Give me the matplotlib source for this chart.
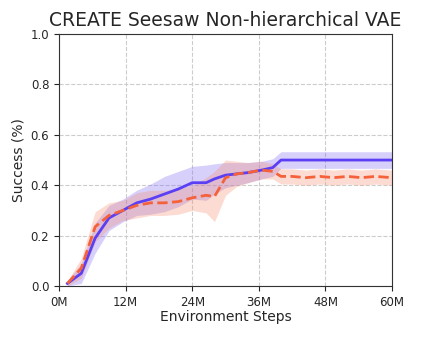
import numpy as np
import matplotlib
matplotlib.use("Agg")
import matplotlib.pyplot as plt

# environment steps (millions)
steps = [1.5, 4, 6.5, 9, 11.5, 14, 16.5, 19, 21.5, 24, 26.5, 28, 30, 32, 34,
         36.5, 38.5, 40, 42, 44.5, 47, 49.5, 52, 54.5, 57, 60]

blue_mean = [0.01, 0.05, 0.19, 0.27, 0.30, 0.33, 0.345, 0.365, 0.385, 0.41, 0.41, 0.425,
             0.44, 0.445, 0.45, 0.46, 0.47, 0.50, 0.50, 0.50, 0.50, 0.50, 0.50, 0.50, 0.50, 0.50]
blue_std = [0.01, 0.04, 0.06, 0.05, 0.045, 0.05, 0.06, 0.07, 0.07, 0.065, 0.07, 0.06,
            0.05, 0.045, 0.04, 0.035, 0.035, 0.033, 0.033, 0.033, 0.033, 0.033, 0.033, 0.033, 0.033, 0.033]

orange_mean = [0.01, 0.07, 0.235, 0.28, 0.30, 0.32, 0.33, 0.33, 0.335, 0.35, 0.36, 0.355,
               0.43, 0.445, 0.45, 0.46, 0.455, 0.435, 0.435, 0.43, 0.435, 0.43, 0.435, 0.43, 0.435, 0.43]
orange_std = [0.01, 0.04, 0.06, 0.05, 0.04, 0.05, 0.05, 0.05, 0.05, 0.05, 0.07, 0.1,
              0.07, 0.05, 0.04, 0.035, 0.03, 0.03, 0.03, 0.03, 0.03, 0.03, 0.03, 0.03, 0.03, 0.03]

xticks = [0, 12, 24, 36, 48, 60]
xticklabels = ['0M', '12M', '24M', '36M', '48M', '60M']

x = np.array(steps)
bm, bs = np.array(blue_mean), np.array(blue_std)
om, os_ = np.array(orange_mean), np.array(orange_std)

txt = '#262626'
fig = plt.figure(figsize=(4.22, 3.38), dpi=100)
ax = fig.add_axes([0.14, 0.154, 0.789, 0.745])

ax.fill_between(x, bm - bs, bm + bs, color='#7b66f5', alpha=0.3, linewidth=0)
ax.fill_between(x, om - os_, om + os_, color='#f88a6a', alpha=0.3, linewidth=0)
ax.plot(x, bm, color='#5a3ff5', linewidth=2)
ax.plot(x, om, color='#f4613a', linewidth=2, linestyle='--')

ax.set_xlim(0, 60)
ax.set_ylim(0, 1.0)
ax.set_xticks(xticks)
ax.set_xticklabels(xticklabels)
ax.set_yticks(np.arange(0, 1.01, 0.2))
ax.grid(True, linestyle='--', color='#cccccc', linewidth=0.8)
ax.set_axisbelow(True)
ax.tick_params(labelsize=8.5, colors=txt)
for s in ax.spines.values():
    s.set_color('#333333')

ax.set_title('CREATE Seesaw Non-hierarchical VAE', fontsize=13.5, color=txt)
ax.set_xlabel('Environment Steps', fontsize=10, labelpad=1, color=txt)
ax.set_ylabel('Success (%)', fontsize=10, color=txt)

fig.savefig('out.png', dpi=100)
